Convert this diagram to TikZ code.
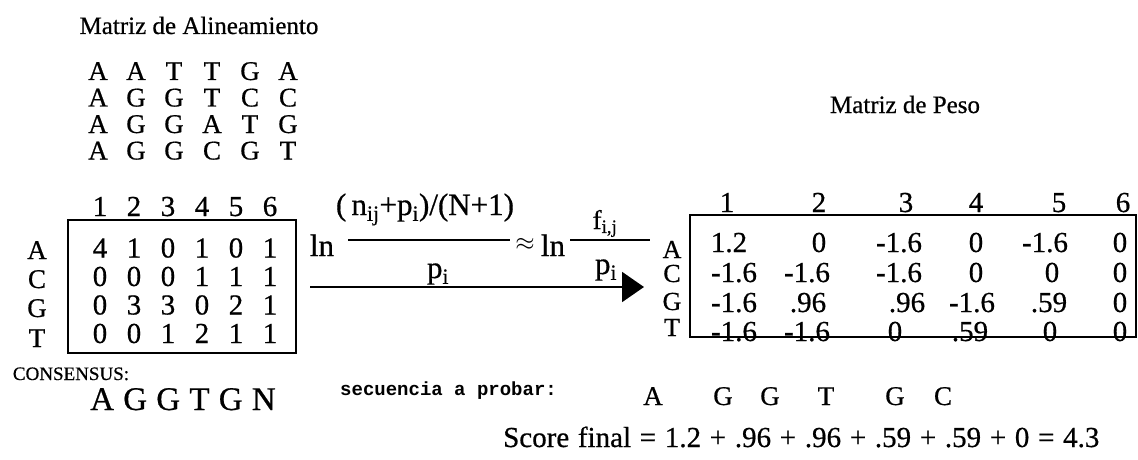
\documentclass[tikz,border=0pt]{standalone}
\usepackage{fontspec}
\setmainfont{Liberation Serif}[FakeBold=0.6]
\setmonofont{Liberation Mono}
\usetikzlibrary{arrows.meta}
\newcommand{\fsz}[1]{\fontsize{#1}{#1}\selectfont}

\begin{document}
\begin{tikzpicture}[x=1pt,y=-1pt,
	every node/.style={inner sep=0pt,anchor=base},
	title/.style={font=\fsz{25}},
	seq/.style={font=\fsz{27}},
	cnt/.style={font=\fsz{29}},
	lbl/.style={font=\fsz{27}},
	wgt/.style={font=\fsz{29}},
	frm/.style={font=\fsz{31}}]
	\useasboundingbox (0,0) rectangle (1138,460);

	% matriz de alineamiento
	\node[title] (titA) at (199,34) {Matriz de Alineamiento};
	\foreach \row [count=\r] in {{A,A,T,T,G,A},{A,G,G,T,C,C},{A,G,G,A,T,G},{A,G,G,C,G,T}}
		\foreach \b [count=\c] in \row
			\node[seq] (s\r\c) at ({60+38*\c},{53.5+26.5*\r}) {\b};

	% conteos
	\foreach \c in {1,...,6}
		\node[cnt] (hA\c) at ({66+34*\c},216) {\c};
	\foreach \row [count=\r] in {{4,1,0,1,0,1},{0,0,0,1,1,1},{0,3,3,0,2,1},{0,0,1,2,1,1}}
		\foreach \v [count=\c] in \row
			\node[cnt] (n\r\c) at ({66+34*\c},{229+28.5*\r}) {\v};
	\draw[line width=2.5pt] (68,220) rectangle (296,353);
	\foreach \b/\y in {A/259,C/288,G/317,T/347}
		\node[lbl] (lA\b) at (37,\y) {\b};

	\node[font=\fsz{19}] (cons) at (71,380) {CONSENSUS:};
	\node[font=\fsz{33}] (consSeq) at (183,410)
		{A\hspace{.28em}G\hspace{.28em}G\hspace{.28em}T\hspace{.28em}G\hspace{.28em}N};

	% formula
	\node[frm] (ln1) at (322,256) {ln};
	\draw[line width=1.2pt] (348,240) -- (510,240);
	\node[frm] (numA) at (425,215) {(\,n\textsubscript{ij}+p\textsubscript{i})/(N+1)};
	\node[frm] (denA) at (438,278) {p\textsubscript{i}};
	\node[frm] (apx) at (525,250) {$\approx$};
	\node[frm] (ln2) at (553,256) {ln};
	\draw[line width=1.2pt] (570,240) -- (650,240);
	\node[font=\fsz{27}] (numB) at (605,229) {f\textsubscript{i,j}};
	\node[frm] (denB) at (606,274) {p\textsubscript{i}};
	\coordinate (arrS) at (310,287);
	\coordinate (arrE) at (644,287);
	\draw[line width=2pt,-{Triangle[length=22pt,width=30pt]}] (arrS) -- (arrE);

	% matriz de peso
	\node[title] (titP) at (905,113) {Matriz de Peso};
	\foreach \x [count=\c] in {727,819,906,976,1059,1123}
		\node[cnt] (hP\c) at (\x,212) {\c};
	\draw[line width=2.5pt] (690,215) rectangle (1136,337);
	\foreach \b/\y in {A/258,C/282,G/310,T/336}
		\node[font=\fsz{26}] (lP\b) at (672,\y) {\b};
	\foreach \v/\x in {1.2/729,0/819,-1.6/899,0/976,-1.6/1045,0/1120}
		\node[wgt] at (\x,252) {\v};
	\foreach \v/\x in {-1.6/734,-1.6/807,-1.6/899,0/976,0/1052,0/1120}
		\node[wgt] at (\x,282) {\v};
	\foreach \v/\x in {-1.6/734,.96/808,.96/907,-1.6/972,.59/1049,0/1120}
		\node[wgt] at (\x,312) {\v};
	\foreach \v/\x in {-1.6/734,-1.6/807,0/895,.59/970,0/1050,0/1120}
		\node[wgt] at (\x,341) {\v};

	% secuencia
	\node[font=\fsz{19}\ttfamily\bfseries,anchor=base west] (prob) at (340,395) {secuencia a probar:};
	\foreach \b/\x in {A/653,G/723,G/770,T/826,G/895,C/943}
		\node[seq] at (\x,405) {\b};
	\node[font=\fsz{29},anchor=base west] (score) at (503,447)
		{\spaceskip=.3em\relax Score final = 1.2 + .96 + .96 + .59 + .59 + 0 = 4.3};
\end{tikzpicture}
\end{document}
